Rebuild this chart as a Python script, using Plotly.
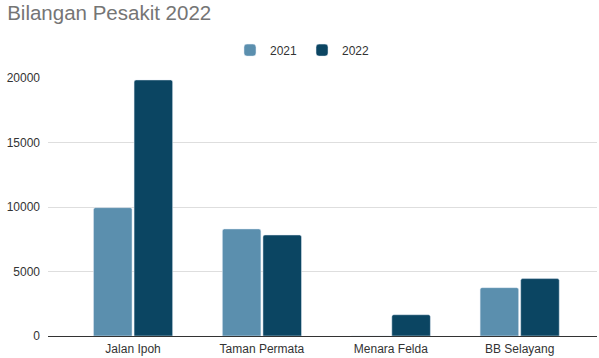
import plotly.graph_objects as go

lokasi = ["Jalan Ipoh", "Taman Permata", "Menara Felda", "BB Selayang"]
pesakit_2021 = [9950, 8300, 0, 3750]
pesakit_2022 = [19850, 7830, 1650, 4450]

fig = go.Figure()
fig.add_trace(go.Bar(x=lokasi, y=pesakit_2021, name="2021",
                     marker=dict(color="#5b8fae", cornerradius=2)))
fig.add_trace(go.Bar(x=lokasi, y=pesakit_2022, name="2022",
                     marker=dict(color="#0b4562", cornerradius=2)))

fig.update_layout(
    width=599, height=358,
    margin=dict(l=48, r=2, t=78, b=22, autoexpand=False),
    plot_bgcolor="white", paper_bgcolor="white",
    font=dict(family="Liberation Sans, Arial, sans-serif", size=12, color="#333333"),
    title=dict(text="Bilangan Pesakit 2022", x=0.012, xanchor="left",
               y=0.963, yanchor="middle",
               font=dict(size=20.5, color="#757575")),
    barmode="group", bargap=0.37, bargroupgap=0.05,
    legend=dict(orientation="h", xref="container", x=0.505, xanchor="center",
                yref="container", y=0.86, yanchor="middle",
                font=dict(size=12, color="#333333"), itemwidth=30),
    showlegend=True,
)
fig.update_xaxes(range=[-0.66, 3.6], showline=True, linecolor="#333333", linewidth=1,
                 ticks="", showgrid=False, ticklabelstandoff=2)
fig.update_yaxes(range=[0, 20000], tickvals=[0, 5000, 10000, 15000, 20000],
                 tickformat="d", gridcolor="#dedede", zeroline=False, ticks="",
                 ticklabelstandoff=7)

# page margin off so the chart sits at the window corner
fig.write_html("out.html", config={"displayModeBar": False},
               post_script="document.body.style.margin='0';")
